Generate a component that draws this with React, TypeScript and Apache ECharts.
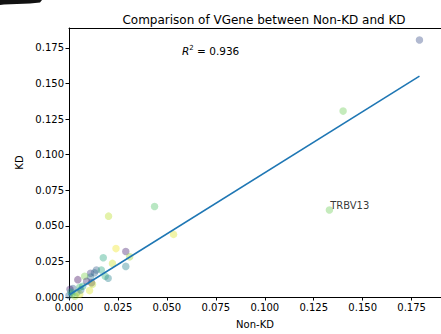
import React, { useEffect, useRef } from "react";
import * as echarts from "echarts";

const nonKD = [0.179, 0.140, 0.133, 0.0437, 0.0534, 0.0202, 0.0240, 0.0290, 0.0310, 0.0290, 0.0222, 0.0175, 0.0140, 0.0165, 0.0185, 0.0200, 0.0110, 0.0110, 0.0115, 0.0080, 0.0045, 0.0105, 0.0120, 0.0070, 0.0055, 0.0020, 0.0005, 0.0040, 0.0055, 0.0015, 0.0000, 0.0030, 0.0010, 0.0090, 0.0130, 0.0060];
const kd = [0.1806, 0.1306, 0.0611, 0.0636, 0.0440, 0.0568, 0.0340, 0.0320, 0.0282, 0.0215, 0.0236, 0.0276, 0.0190, 0.0190, 0.0146, 0.0132, 0.0167, 0.0140, 0.0100, 0.0146, 0.0122, 0.0045, 0.0090, 0.0076, 0.0068, 0.0060, 0.0055, 0.0030, 0.0020, 0.0020, 0.0010, 0.0005, 0.0035, 0.0110, 0.0170, 0.0050];
const colorVals = [0.25, 0.78, 0.78, 0.72, 0.95, 0.9, 0.98, 0.1, 0.85, 0.45, 0.92, 0.6, 0.3, 0.6, 0.65, 0.45, 0.2, 0.4, 0.05, 0.8, 0.05, 0.95, 0.9, 0.6, 0.7, 0.3, 0.1, 0.5, 0.95, 0.7, 0.3, 0.85, 0.55, 0.15, 0.35, 0.4];
const geneNames = ["", "", "TRBV13"];
const fitX = [0, 0.179];
const fitY = [0.0014, 0.1552];
const tickValues = [0, 0.025, 0.05, 0.075, 0.1, 0.125, 0.15, 0.175];
const viridis = ["#440154", "#482878", "#3e4989", "#31688e", "#26828e", "#1f9e89", "#35b779", "#6ece58", "#b5de2b", "#fde725"];

export default function App() {
  const ref = useRef<HTMLDivElement>(null);
  useEffect(() => {
    const chart = echarts.init(ref.current!, null, { renderer: "svg" });
    const font = "DejaVu Sans";
    const isTick = (v: number) => tickValues.some((t) => Math.abs(t - v) < 1e-9);
    const scatterData = nonKD.map((x, i) => ({
      value: [x, kd[i], colorVals[i]],
      label: geneNames[i]
        ? { show: true, formatter: geneNames[i], position: [4.5, -6], color: "#000", fontSize: 10, fontFamily: font }
        : { show: false },
    }));
    const baseAxis = {
      type: "value",
      min: 0,
      interval: 0.025,
      nameLocation: "middle",
      nameTextStyle: { fontFamily: font, fontSize: 10, color: "#000" },
      splitLine: { show: false },
      axisLine: { onZero: false, lineStyle: { color: "#000", width: 1 } },
      axisTick: { length: 3.5, lineStyle: { color: "#000" } },
      axisLabel: {
        fontFamily: font,
        fontSize: 10,
        color: "#000",
        showMaxLabel: false,
        formatter: (v: number) => (isTick(v) ? v.toFixed(3) : ""),
      },
    };
    chart.setOption({
      animation: false,
      backgroundColor: "#fff",
      title: {
        text: "Comparison of VGene between Non-KD and KD",
        left: 259,
        textAlign: "center",
        top: 9,
        textStyle: { fontFamily: font, fontSize: 12, fontWeight: "normal", color: "#000" },
      },
      grid: { left: 69, top: 28, right: -9, bottom: 34, show: false },
      visualMap: {
        show: false,
        type: "continuous",
        dimension: 2,
        seriesIndex: 0,
        min: 0,
        max: 1,
        inRange: { color: viridis, colorAlpha: 0.5 },
      },
      xAxis: [
        {
          ...baseAxis,
          max: 0.19,
          name: "Non-KD",
          nameGap: 22,
          position: "bottom",
          axisLabel: { ...baseAxis.axisLabel, margin: 5 },
        },
        {
          type: "value",
          min: 0,
          max: 0.19,
          position: "top",
          axisLine: { show: true, onZero: false, lineStyle: { color: "#000", width: 1 } },
          axisTick: { show: false },
          axisLabel: { show: false },
          splitLine: { show: false },
        },
      ],
      yAxis: {
        ...baseAxis,
        max: 0.189,
        name: "KD",
        nameGap: 44,
        axisLabel: { ...baseAxis.axisLabel, margin: 5 },
      },
      series: [
        {
          type: "scatter",
          symbolSize: 7.5,
          data: scatterData,
          clip: true,
          z: 2,
        },
        {
          type: "line",
          data: fitX.map((x, i) => [x, fitY[i]]),
          symbol: "none",
          lineStyle: { color: "#1f77b4", width: 1.6 },
          z: 3,
        },
      ],
      graphic: [
        {
          type: "text",
          left: 182,
          top: 44,
          style: {
            text: "{r|R}{s|2} = 0.936",
            fontFamily: font,
            fontSize: 10.5,
            fill: "#000",
            rich: {
              r: { fontFamily: font, fontSize: 10.5, fontStyle: "italic", fill: "#000" },
              s: { fontFamily: font, fontSize: 7, fill: "#000", verticalAlign: "top", padding: [0, 0, 6, 0] },
            },
          },
        },
        {
          type: "polygon",
          shape: { points: [[0, 0], [42, 0], [40, 2.5], [30, 3.5], [4, 4.5], [0, 5]] },
          style: { fill: "#111" },
        },
      ],
    });
    return () => chart.dispose();
  }, []);
  return <div ref={ref} style={{ position: "fixed", left: 0, top: 0, width: 441, height: 334 }} />;
}
